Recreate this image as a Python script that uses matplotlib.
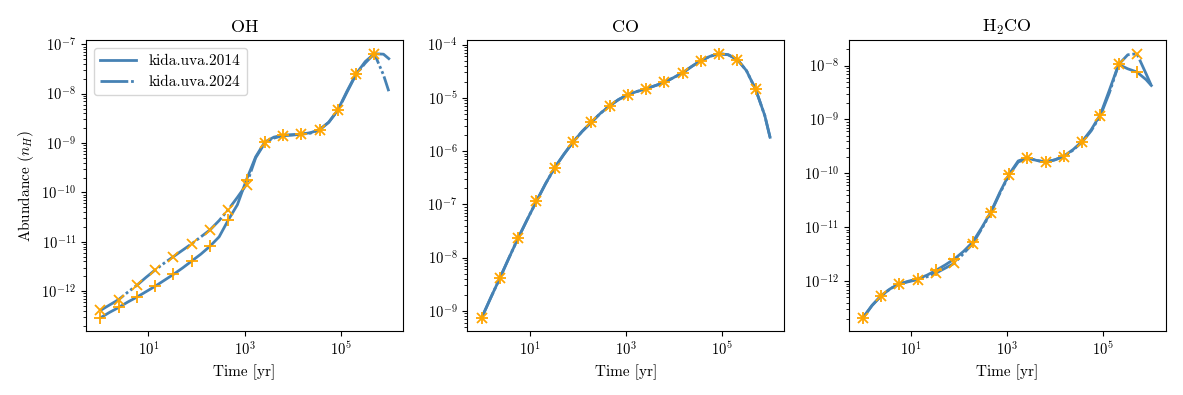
import numpy as np
import matplotlib
matplotlib.use("Agg")
import matplotlib.pyplot as plt
from matplotlib.ticker import NullLocator

plt.rcParams['font.family'] = 'serif'
plt.rcParams['font.serif'] = ['cmr10']
plt.rcParams['mathtext.fontset'] = 'cm'
plt.rcParams['axes.formatter.use_mathtext'] = True
plt.rcParams['axes.unicode_minus'] = True

# time grid in log10(yr): every 0.19 dex, markers on every other point
log_time = np.concatenate([np.arange(32) * 0.19, [6.0]])
time = 10 ** log_time

species = ['OH', 'CO', 'H$_2$CO']
labels = ['kida.uva.2014', 'kida.uva.2024']

# log10 abundances
oh_2014 = [-12.54, -12.43, -12.33, -12.22, -12.12, -12.01, -11.90, -11.78,
           -11.66, -11.53, -11.39, -11.25, -11.09, -10.90, -10.56, -10.25,
           -9.74, -9.28, -8.98, -8.88, -8.84, -8.83, -8.82, -8.79,
           -8.73, -8.58, -8.33, -7.95, -7.60, -7.35, -7.19, -7.20, -7.29]
oh_2024 = [-12.39, -12.28, -12.17, -12.02, -11.88, -11.72, -11.57, -11.43,
           -11.30, -11.17, -11.04, -10.90, -10.76, -10.57, -10.35, -10.10,
           -9.84, -9.30, -9.00, -8.90, -8.85, -8.84, -8.82, -8.80,
           -8.73, -8.58, -8.34, -7.97, -7.61, -7.38, -7.19, -7.62, -7.95]

co_2014 = [-9.13, -8.75, -8.38, -8.00, -7.63, -7.28, -6.94, -6.61,
           -6.31, -6.06, -5.83, -5.63, -5.46, -5.29, -5.15, -5.03,
           -4.94, -4.88, -4.83, -4.77, -4.71, -4.62, -4.53, -4.41,
           -4.30, -4.22, -4.17, -4.19, -4.28, -4.49, -4.84, -5.33, -5.74]
co_2024 = list(co_2014)

h2co_2014 = [-12.68, -12.45, -12.27, -12.14, -12.05, -12.00, -11.96, -11.89,
             -11.80, -11.70, -11.59, -11.45, -11.28, -11.01, -10.72, -10.35,
             -10.02, -9.77, -9.71, -9.76, -9.79, -9.75, -9.68, -9.56,
             -9.41, -9.19, -8.91, -8.45, -7.98, -8.06, -8.12, -8.26, -8.37]
h2co_2024 = [-12.68, -12.45, -12.27, -12.14, -12.05, -12.01, -11.97, -11.92,
             -11.85, -11.76, -11.67, -11.49, -11.31, -11.03, -10.73, -10.37,
             -10.03, -9.79, -9.72, -9.76, -9.79, -9.75, -9.69, -9.57,
             -9.42, -9.21, -8.93, -8.50, -7.98, -7.80, -7.78, -8.15, -8.37]

data = {
    'OH': (oh_2014, oh_2024),
    'CO': (co_2014, co_2024),
    'H$_2$CO': (h2co_2014, h2co_2024),
}

fig, axes = plt.subplots(1, 3, figsize=(11.83, 3.95), dpi=100)
fig.subplots_adjust(left=0.0727, right=0.9854, bottom=0.162, top=0.8975, wspace=0.202)

line_color = 'steelblue'
marks = slice(0, 32, 2)
dashdot = (0, (10, 1, 1, 1, 1, 1))

for ax, name in zip(axes, species):
    old, new = data[name]
    old = 10 ** np.array(old)
    new = 10 ** np.array(new)
    ax.plot(time, old, color=line_color, lw=2, ls='-', label=labels[0])
    ax.plot(time, new, color=line_color, lw=2, ls=dashdot, label=labels[1])
    # sampled points
    ax.plot(time[marks], old[marks], ls='none', marker='+', ms=8.5,
            mec='orange', mew=1.3)
    ax.plot(time[marks], new[marks], ls='none', marker='x', ms=7.5,
            mec='orange', mew=1.3)
    ax.set_xscale('log')
    ax.set_yscale('log')
    ax.set_xticks([1e1, 1e3, 1e5])
    ax.xaxis.set_minor_locator(NullLocator())
    ax.set_title(name, fontsize=13)
    ax.set_xlabel('Time [yr]', fontsize=11)
    ax.tick_params(labelsize=10.5)

axes[0].set_ylabel('Abundance ($n_H$)', fontsize=11)
axes[0].legend(loc='upper left', fontsize=11, handlelength=2.4)

fig.savefig('out.png', dpi=100)
